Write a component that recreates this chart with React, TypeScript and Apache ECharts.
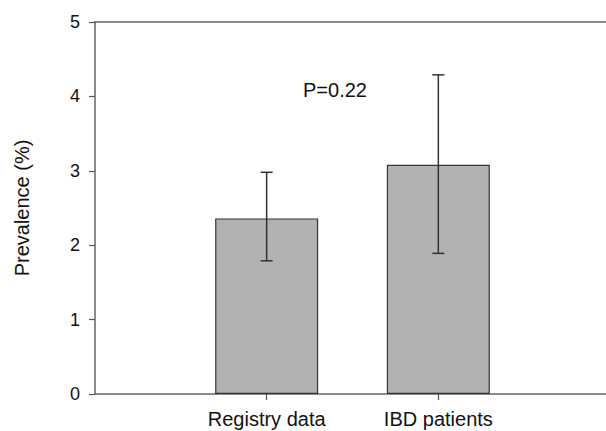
import React, { useEffect, useRef } from "react";
import * as echarts from "echarts";

const categories = ["", "Registry data", "IBD patients", ""];
const prevalence = [2.36, 3.08];
const errLow = [1.79, 1.89];
const errHigh = [2.98, 4.29];
const yTicks = [0, 1, 2, 3, 4, 5];
const annotation = "P=0.22";

const FONT = "'Liberation Sans', Arial, sans-serif";

export default function App() {
  const ref = useRef<HTMLDivElement>(null);
  useEffect(() => {
    if (!ref.current) return;
    const chart = echarts.init(ref.current, undefined, { renderer: "svg" });
    const barData = prevalence.map((v, i) => [i + 1, v]);
    const errData = prevalence.map((_, i) => [i + 1, errLow[i], errHigh[i]]);
    chart.setOption({
      animation: false,
      backgroundColor: "#ffffff",
      grid: {
        left: 95,
        top: 22,
        bottom: 37,
        right: 10,
        show: false,
      },
      xAxis: [
        {
          type: "category",
          data: categories,
          boundaryGap: false,
          axisLine: { lineStyle: { color: "#666666", width: 1.5 } },
          axisTick: {
            show: true,
            length: 6,
            interval: (idx: number) => idx === 1 || idx === 2,
            lineStyle: { color: "#555555", width: 1.2 },
          },
          axisLabel: {
            interval: 0,
            margin: 15,
            color: "#111111",
            fontSize: 20,
            fontFamily: FONT,
          },
          splitLine: { show: false },
        },
        {
          type: "category",
          position: "top",
          data: categories,
          boundaryGap: false,
          axisLine: { show: true, lineStyle: { color: "#666666", width: 1.5 } },
          axisTick: { show: false },
          axisLabel: { show: false },
          splitLine: { show: false },
        },
      ],
      yAxis: {
        type: "value",
        min: yTicks[0],
        max: yTicks[yTicks.length - 1],
        interval: 1,
        name: "Prevalence (%)",
        nameLocation: "middle",
        nameGap: 63,
        nameTextStyle: { color: "#111111", fontSize: 20, fontFamily: FONT },
        axisLine: { show: true, lineStyle: { color: "#666666", width: 1.5 } },
        axisTick: { show: true, length: 6, lineStyle: { color: "#555555", width: 1.2 } },
        axisLabel: {
          margin: 15,
          color: "#111111",
          fontSize: 18,
          fontFamily: FONT,
        },
        splitLine: { show: false },
      },
      graphic: [
        {
          type: "text",
          x: 335,
          y: 90,
          style: {
            text: annotation,
            fill: "#111111",
            font: `20px ${FONT}`,
            textAlign: "center",
            textVerticalAlign: "middle",
          },
        },
      ],
      series: [
        {
          type: "bar",
          data: barData,
          barWidth: 103,
          itemStyle: { color: "#b2b2b2", borderColor: "#333333", borderWidth: 1.2 },
          z: 2,
        },
        {
          type: "custom",
          data: errData,
          z: 5,
          renderItem: (params: any, api: any) => {
            const x = api.value(0);
            const lo = api.coord([x, api.value(1)]);
            const hi = api.coord([x, api.value(2)]);
            const hw = 6;
            const style = { stroke: "#333333", lineWidth: 1.5 };
            return {
              type: "group",
              children: [
                { type: "line", shape: { x1: lo[0], y1: lo[1], x2: hi[0], y2: hi[1] }, style },
                { type: "line", shape: { x1: lo[0] - hw, y1: lo[1], x2: lo[0] + hw, y2: lo[1] }, style },
                { type: "line", shape: { x1: hi[0] - hw, y1: hi[1], x2: hi[0] + hw, y2: hi[1] }, style },
              ],
            };
          },
        },
      ],
    });
    return () => chart.dispose();
  }, []);
  return (
    <div
      style={{
        position: "fixed",
        left: 0,
        top: 0,
        width: 606,
        height: 431,
        overflow: "hidden",
        background: "#fff",
      }}
    >
      <div ref={ref} style={{ width: 620, height: 431 }} />
    </div>
  );
}
